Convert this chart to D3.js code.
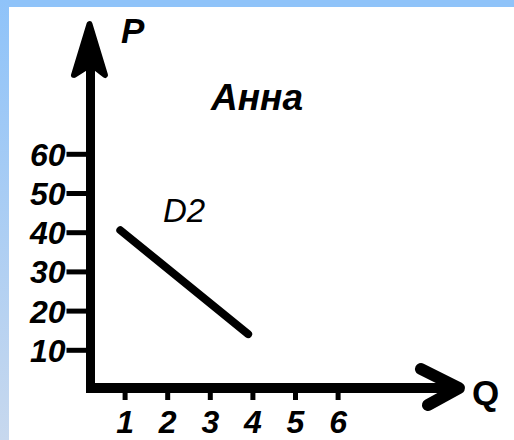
<!DOCTYPE html>
<html>
<head>
<meta charset="utf-8">
<script src="https://cdn.jsdelivr.net/npm/d3@7"></script>
<style>
  html, body { margin: 0; padding: 0; background: #fff; }
  svg { display: block; }
</style>
</head>
<body>
<svg id="chart" width="514" height="440"></svg>
<script>
// ---- data ----
const quantityTicks = [1, 2, 3, 4, 5, 6];
const priceTicks = [10, 20, 30, 40, 50, 60];
const demandQ = [0.9, 3.9];
const demandP = [40.5, 14];
const title = "Анна";
const curveLabel = "D2";
const xLabel = "Q";
const yLabel = "P";

const svg = d3.select("#chart");
const W = 514, H = 440;
const font = "'Liberation Sans', Arial, sans-serif";

// background frame
const defs = svg.append("defs");
const grad = defs.append("linearGradient").attr("id", "leftband")
  .attr("x1", 0).attr("y1", 0).attr("x2", 0).attr("y2", 1);
grad.append("stop").attr("offset", "0%").attr("stop-color", "#8fc3f9");
grad.append("stop").attr("offset", "100%").attr("stop-color", "#c7d8ee");
svg.append("rect").attr("width", W).attr("height", H).attr("fill", "#fff");
svg.append("rect").attr("x", 0).attr("y", 0).attr("width", W).attr("height", 7).attr("fill", "#8fc3f9");
svg.append("rect").attr("x", 0).attr("y", 0).attr("width", 9).attr("height", H).attr("fill", "url(#leftband)");

// scales
const x = d3.scaleLinear().domain([0, 6]).range([82, 337.6]);
const y = d3.scaleLinear().domain([0, 60]).range([389, 153.8]);

const axisX = 90.5, axisY = 388;

// y axis ticks + labels
const yAxis = d3.axisLeft(y).tickValues(priceTicks).tickFormat(d3.format("d")).tickSize(24).tickPadding(4);
const gy = svg.append("g").attr("transform", `translate(${axisX},0)`).call(yAxis);
gy.select(".domain").remove();
gy.selectAll(".tick line").attr("stroke", "#000").attr("stroke-width", 5);
gy.selectAll(".tick text")
  .attr("fill", "#000")
  .attr("font-family", font).attr("font-size", 32).attr("font-style", "italic").attr("font-weight", "bold")
  .attr("dy", "0.36em").attr("x", -25);

// x axis ticks + labels
const xAxis = d3.axisBottom(x).tickValues(quantityTicks).tickFormat(d3.format("d")).tickSize(12).tickPadding(4);
const gx = svg.append("g").attr("transform", `translate(0,${axisY})`).call(xAxis);
gx.select(".domain").remove();
gx.selectAll(".tick line").attr("stroke", "#000").attr("stroke-width", 5);
gx.selectAll(".tick text")
  .attr("fill", "#000")
  .attr("font-family", font).attr("font-size", 32).attr("font-style", "italic").attr("font-weight", "bold")
  .attr("y", 45).attr("dy", 0);

// axis shafts
svg.append("line").attr("x1", axisX).attr("x2", axisX).attr("y1", 60).attr("y2", 393)
  .attr("stroke", "#000").attr("stroke-width", 9);
svg.append("line").attr("x1", 86).attr("x2", 455).attr("y1", axisY).attr("y2", axisY)
  .attr("stroke", "#000").attr("stroke-width", 10);

// y arrowhead (filled, swept back)
svg.append("path")
  .attr("d", `M${axisX - 1},24 L74,75 L85,68 L96,68 L105,75 Z`)
  .attr("fill", "#000").attr("stroke", "#000").attr("stroke-width", 6).attr("stroke-linejoin", "round");

// x arrowhead (chevron)
svg.append("path")
  .attr("d", `M421,369 L459,388 L428,405`)
  .attr("fill", "none").attr("stroke", "#000").attr("stroke-width", 12)
  .attr("stroke-linejoin", "round").attr("stroke-linecap", "round");

// demand line
const pts = demandQ.map((q, i) => [x(q), y(demandP[i])]);
svg.append("path").attr("d", d3.line()(pts))
  .attr("fill", "none").attr("stroke", "#000").attr("stroke-width", 8).attr("stroke-linecap", "round");

// labels
svg.append("text").attr("x", 121).attr("y", 43).text(yLabel)
  .attr("font-family", font).attr("font-size", 35).attr("font-weight", "bold").attr("font-style", "italic");
svg.append("text").attr("x", 472).attr("y", 405).text(xLabel)
  .attr("font-family", font).attr("font-size", 35).attr("font-weight", "bold");
svg.append("text").attr("x", 211).attr("y", 110).text(title)
  .attr("font-family", font).attr("font-size", 37).attr("font-weight", "bold").attr("font-style", "italic");
svg.append("text").attr("x", 163).attr("y", 222).text(curveLabel)
  .attr("font-family", font).attr("font-size", 33).attr("font-style", "italic");
</script>
</body>
</html>
